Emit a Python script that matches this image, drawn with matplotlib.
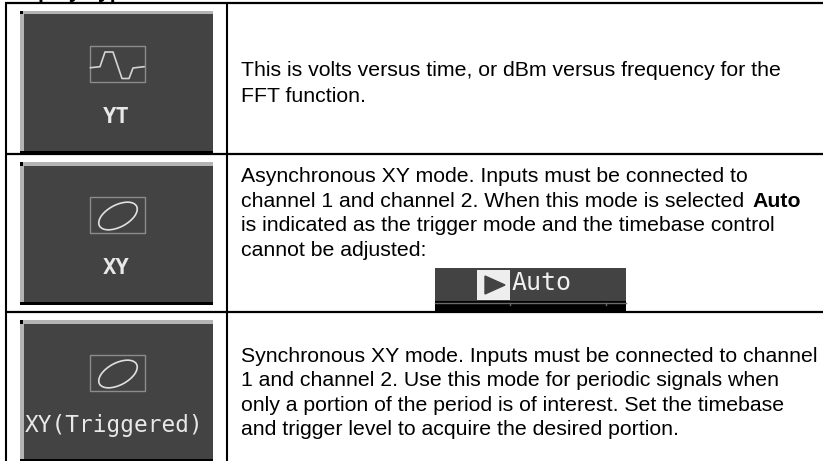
import matplotlib
matplotlib.use("Agg")
import matplotlib.pyplot as plt
from matplotlib.patches import Rectangle, Ellipse

W, H = 823, 461
title = "Display Type"
icon_labels = ["YT", "XY", "XY(Triggered)"]
icon_tops = [11, 162, 320]
icon_bottoms = [153.5, 304.5, 461]
wave_x = [90.5, 100, 105, 113, 122, 129, 133, 144]
wave_y = [67.7, 66.7, 52, 52, 78.5, 78.5, 68, 66.7]
row_lines = [3, 154, 312]
text_blocks = [
    (["This is volts versus time, or dBm versus frequency for the", "FFT function."], [76, 101.5]),
    (["Asynchronous XY mode. Inputs must be connected to",
      "channel 1 and channel 2. When this mode is selected",
      "is indicated as the trigger mode and the timebase control",
      "cannot be adjusted:"], [182, 207, 231, 255.5]),
    (["Synchronous XY mode. Inputs must be connected to channel",
      "1 and channel 2. Use this mode for periodic signals when",
      "only a portion of the period is of interest. Set the timebase",
      "and trigger level to acquire the desired portion."], [362, 386, 411, 435]),
]
auto_word = "Auto"
banner_ticks = [510, 606]

plt.rcParams['font.family'] = ['Liberation Sans', 'DejaVu Sans']
fig = plt.figure(figsize=(W / 100, H / 100), dpi=100)
ax = fig.add_axes([0, 0, 1, 1])
ax.set_xlim(0, W)
ax.set_ylim(H, 0)
ax.axis("off")

ax.text(5, -2.5, title, fontsize=15.3, fontweight="bold", va="baseline", ha="left")

for y in row_lines:
    ax.plot([5, W], [y, y], color="black", lw=1.6, solid_capstyle="butt")
for x in [6, 226.7]:
    ax.plot([x, x], [2, H], color="black", lw=1.5, solid_capstyle="butt")

DARK = "#434343"
for top, bot, lab in zip(icon_tops, icon_bottoms, icon_labels):
    ax.add_patch(Rectangle((20, top), 192.7, bot - top, fc=DARK, ec="none"))
    ax.add_patch(Rectangle((20, top), 192.7, 3.5, fc="#b4b4b4", ec="none"))
    ax.add_patch(Rectangle((20, top), 3.7, bot - top, fc="#b4b4b4", ec="none"))
    ax.add_patch(Rectangle((20, top), 3.5, 3.5, fc="black", ec="none"))
    ax.add_patch(Rectangle((20, bot - 2.5), 192.7, 2.5, fc="black", ec="none"))
    ax.add_patch(Rectangle((89.7, top + 35), 55, 36, fc="none", ec="#8c8c8c", lw=1))
    if lab == "YT":
        ax.plot(wave_x, wave_y, color="#d4d4d4", lw=1.2)
    else:
        ax.add_patch(Ellipse((118, top + 54), 42, 22, angle=-28, fc="none", ec="#e0e0e0", lw=1.2))
    if lab == "XY(Triggered)":
        ax.text(114, top + 105, lab, color="#e8e8e8", fontsize=16.4, family="DejaVu Sans Mono",
                ha="center", va="center")
    else:
        ax.text(116, top + 106, lab, color="#e8e8e8", fontsize=16, family="DejaVu Sans Mono",
                fontweight="bold", ha="center", va="center")

for lines, ys in text_blocks:
    for line, y in zip(lines, ys):
        ax.text(241, y, line, fontsize=15.3, color="black", va="baseline", ha="left")
ax.text(752, 207, auto_word, fontsize=15.3, fontweight="bold", color="black", va="baseline", ha="left")

# Auto banner
ax.add_patch(Rectangle((435, 268), 191, 33, fc=DARK, ec="none"))
ax.add_patch(Rectangle((435, 301), 191, 11, fc="black", ec="none"))
ax.plot([435, 626], [302.5, 302.5], color="#6a6a6a", lw=1)
for tx in banner_ticks:
    ax.plot([tx, tx], [303, 305], color="#6a6a6a", lw=1)
ax.add_patch(Rectangle((477, 270), 33, 30, fc="#eeeeee", ec="none"))
ax.fill([485, 485, 505], [276, 294, 285], color=DARK)
ax.text(512, 283, auto_word, color="#f0f0f0", fontsize=18, family="DejaVu Sans Mono", va="center", ha="left")

fig.savefig("out.png", dpi=100, facecolor="white")
